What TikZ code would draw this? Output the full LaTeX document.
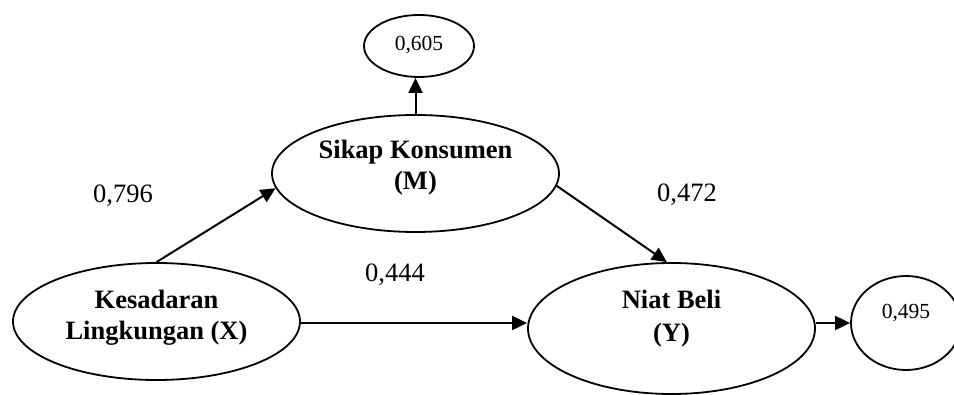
\documentclass[tikz,border=0pt]{standalone}
\usepackage{fontspec}
\setmainfont{Liberation Serif}
\usetikzlibrary{shapes.geometric,arrows.meta}
\begin{document}
\begin{tikzpicture}[x=1pt,y=-1pt,
  construct/.style={ellipse, draw, line width=1.8pt, inner sep=0pt, align=center,
    font=\fontsize{26.5}{31}\selectfont\bfseries},
  residual/.style={ellipse, draw, line width=1.8pt, inner sep=0pt,
    font=\fontsize{21.5}{25}\selectfont},
  link/.style={line width=2pt, -{Triangle[length=15pt,width=14pt]}},
  coef/.style={anchor=base west, inner sep=0pt, font=\fontsize{26.5}{31}\selectfont}]
  \useasboundingbox (0,0) rectangle (954,395);

  % latent constructs
  \node[construct, minimum width=287pt, minimum height=117pt] (M) at (415.5,173.5)
    {Sikap Konsumen\\(M)\rule[-18pt]{0pt}{0pt}};
  \node[construct, minimum width=287pt, minimum height=117pt] (X) at (156.5,321.5)
    {Kesadaran\\Lingkungan (X)\rule[-14pt]{0pt}{0pt}};
  \node[construct, minimum width=287pt, minimum height=131pt] (Y) at (671.5,328.5)
    {Niat Beli\\[2pt](Y)\rule[-26pt]{0pt}{0pt}};

  % R-square values
  \node[residual, minimum width=110pt, minimum height=62pt] (r1) at (419,46)
    {0,605\rule[-6pt]{0pt}{0pt}};
  \node[residual, minimum width=110pt, minimum height=94pt] (r2) at (906,323)
    {0,495\rule[-23pt]{0pt}{0pt}};

  % path coefficients
  \node[coef] (c1) at (93,203) {0,796};
  \node[coef] (c2) at (657,202) {0,472};
  \node[coef] (c3) at (365,282) {0,444};

  % structural paths
  \draw[link] (M.north) -- (M.north |- r1.south);
  \draw[link] (X.north) -- (M.186);
  \draw[link] (M.-5) -- (Y.94);
  \draw[link] (X.east |- 0,323) -- (Y.west |- 0,323);
  \draw[link] (Y.east |- r2.west) -- (r2.west);
\end{tikzpicture}
\end{document}
